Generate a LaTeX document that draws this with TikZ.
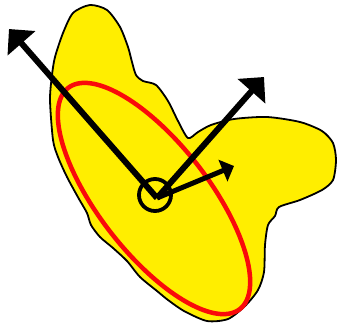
\documentclass[tikz,border=0pt]{standalone}
\usetikzlibrary{arrows.meta}
\definecolor{blobyellow}{RGB}{255,238,0}
\definecolor{ellred}{RGB}{250,10,10}
\tikzset{
  blob/.style={fill=blobyellow, draw=black, line width=1.8pt, line join=round},
  ring/.style={draw=ellred, line width=4.5pt},
  vec/.style={draw=black, line width=6pt, -{Triangle[length=19pt,width=36pt]}},
  smallvec/.style={draw=black, line width=5pt, -{Triangle[length=12pt,width=23pt]}},
  hub/.style={circle, draw=black, line width=3.8pt, minimum size=32pt, inner sep=0pt}
}
\begin{document}
\begin{tikzpicture}[x=1pt,y=-1pt]
\useasboundingbox (0,0) rectangle (337,327);
% yellow blob
\draw[blob] plot[smooth cycle, tension=0.45] coordinates {
(90,5) (107,10) (120,27) (128,47) (132,62) (136,75) (143,81) (156,85)
(168,101) (178,121) (188,138) (198,132) (211,125) (234,119) (267,117)
(300,122) (322,131) (333,143) (336,160) (333,180) (322,190) (300,200)
(279,207) (275,216) (268,225) (265,245) (264,272) (258,290) (245,306)
(228,319) (207,321) (184,311) (168,300) (157,291) (140,277) (127,261)
(113,248) (100,237) (91,225) (87,213) (79,199) (67,177) (58,157)
(53,140) (50,100) (52,75) (55,57) (63,33) (73,13)};
% red ellipse
\draw[ring] plot[smooth cycle, domain=0:355, samples=72, variable=\t]
  ({154 + 140*cos(52.2)*cos(\t) - 55*sin(52.2)*sin(\t)},
   {198.5 + 140*sin(52.2)*cos(\t) + 55*cos(52.2)*sin(\t)});
% hub and vectors
\coordinate (o) at (157,198);
\coordinate (tl) at (9,29);
\coordinate (tr) at (264,77);
\coordinate (ts) at (234,166);
\node[hub] (h) at (155,195) {};
\draw[vec] (o) -- (tl);
\draw[vec] (o) -- (tr);
\draw[smallvec] (o) -- (ts);
\end{tikzpicture}
\end{document}
